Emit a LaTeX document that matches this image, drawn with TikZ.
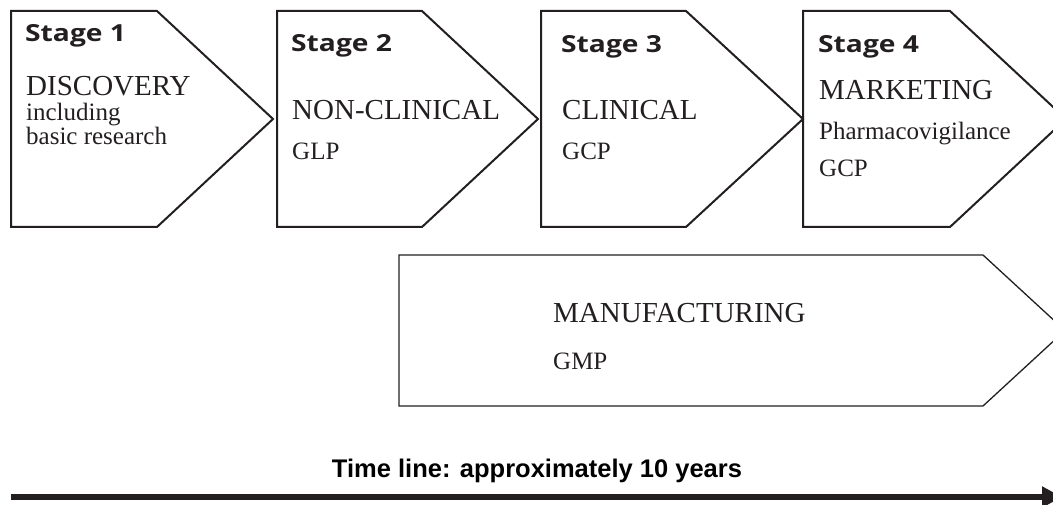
\documentclass[tikz,border=0pt]{standalone}
\usepackage{fontspec}
\setmainfont{Liberation Serif}
\newfontfamily\stagefont[FakeStretch=1.2]{Open Sans}
\newfontfamily\timefont{Liberation Sans}
\usetikzlibrary{arrows.meta}
\definecolor{ink}{HTML}{231F20}
\tikzset{
  stagebox/.style={draw=ink, line width=2pt, line join=miter},
  mfgbox/.style={draw=ink, line width=1.3pt, line join=miter},
  stagelbl/.style={anchor=base west, inner sep=0pt, text=ink, font=\stagefont\bfseries\fontsize{23.5}{27}\selectfont},
  headlbl/.style={anchor=base west, inner sep=0pt, text=ink, font=\fontsize{29}{32}\selectfont},
  sublbl/.style={anchor=base west, inner sep=0pt, text=ink, font=\fontsize{25}{28}\selectfont},
  timelbl/.style={anchor=base, inner sep=0pt, text=black, font=\timefont\bfseries\fontsize{25.5}{30}\selectfont},
  timeline/.style={draw=ink, line width=6pt, -{Triangle[length=20pt,width=20pt]}}
}
\begin{document}
\begin{tikzpicture}[x=1pt,y=-1pt]
\useasboundingbox (0,0) rectangle (1053,505);
% stage boxes
\draw[stagebox] (11,11) -- (157,11) -- (273,119) -- (157,227) -- (11,227) -- cycle;
\draw[stagebox] (277,11) -- (422,11) -- (538,119) -- (422,227) -- (277,227) -- cycle;
\draw[stagebox] (541,11) -- (686,11) -- (803,119) -- (686,227) -- (541,227) -- cycle;
\draw[stagebox] (803,11) -- (950,11) -- (1066,119) -- (950,227) -- (803,227) -- cycle;
% manufacturing box
\draw[mfgbox] (399,255) -- (983,255) -- (1065,330.5) -- (983,406) -- (399,406) -- cycle;
% stage 1
\node[stagelbl] (s1) at (25,42) {Stage 1};
\node[headlbl] (s1h) at (26,96) {DISCOVERY};
\node[sublbl] (s1a) at (26,121) {including};
\node[sublbl] (s1b) at (26,145) {basic research};
% stage 2
\node[stagelbl] (s2) at (291,52) {Stage 2};
\node[headlbl] (s2h) at (292,120) {NON-CLINICAL};
\node[sublbl] (s2a) at (292,160) {GLP};
% stage 3
\node[stagelbl] (s3) at (561,53) {Stage 3};
\node[headlbl] (s3h) at (562,120) {CLINICAL};
\node[sublbl] (s3a) at (562,160) {GCP};
% stage 4
\node[stagelbl] (s4) at (818,53) {Stage 4};
\node[headlbl] (s4h) at (819,100) {MARKETING};
\node[sublbl] (s4a) at (819,140) {Pharmacovigilance};
\node[sublbl] (s4b) at (819,177) {GCP};
% manufacturing
\node[headlbl] (mh) at (553,323) {MANUFACTURING};
\node[sublbl] (ma) at (553,370) {GMP};
% time line
\node[timelbl] (tl) at (537,477) {Time line: approximately 10 years};
\coordinate (tstart) at (11,497);
\coordinate (tend) at (1062,497);
\draw[timeline] (tstart) -- (tend);
\end{tikzpicture}
\end{document}
